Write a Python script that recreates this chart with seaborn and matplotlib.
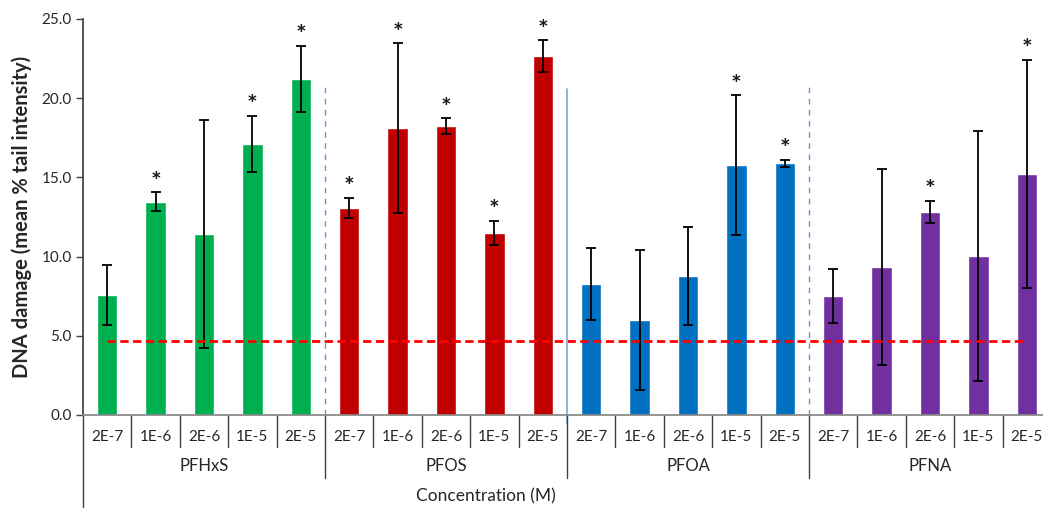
import matplotlib
matplotlib.use('Agg')

import pandas as pd
import matplotlib.pyplot as plt
import seaborn as sns

# datos
compuestos = ["PFHxS", "PFOS", "PFOA", "PFNA"]
concentraciones = ["2E-7", "1E-6", "2E-6", "1E-5", "2E-5"]
colores = {"PFHxS": "#00B050", "PFOS": "#C00000", "PFOA": "#0070C0", "PFNA": "#7030A0"}

media = [7.6, 13.45, 11.45, 17.1, 21.2,
         13.07, 18.12, 18.24, 11.5, 22.66,
         8.27, 6.0, 8.78, 15.78, 15.9,
         7.51, 9.35, 12.84, 10.05, 15.21]
error = [1.9, 0.6, 7.2, 1.77, 2.1,
         0.63, 5.35, 0.5, 0.77, 1.0,
         2.27, 4.4, 3.1, 4.4, 0.22,
         1.72, 6.2, 0.7, 7.9, 7.2]
significativo = [0, 1, 0, 1, 1,
                 1, 1, 1, 1, 1,
                 0, 0, 0, 1, 1,
                 0, 0, 1, 0, 1]
control = 4.65

filas = []
for i, c in enumerate(compuestos):
    for j, conc in enumerate(concentraciones):
        filas.append({"clave": f"{c} {conc}", "compuesto": c, "conc": conc})
df = pd.DataFrame(filas)
df["media"] = media
df["error"] = error
df["sig"] = significativo

sns.set_theme(style="white")
plt.rcParams['font.family'] = ['Lato', 'DejaVu Sans']

fig = plt.figure(figsize=(10.43, 5.08), dpi=100)
ax = fig.add_axes([83 / 1043, 93 / 508, 968 / 1043, 396 / 508])

sns.barplot(data=df, x="clave", y="media", hue="compuesto", palette=colores,
            order=list(df["clave"]), dodge=False, width=0.42, errorbar=None,
            legend=False, ax=ax, saturation=1)

pos = list(range(len(df)))
ax.errorbar(pos, df["media"], yerr=df["error"], fmt="none", ecolor="black",
            elinewidth=1.3, capsize=3.5, capthick=1.3)
for p, m, e, s in zip(pos, df["media"], df["error"], df["sig"]):
    if s:
        ax.annotate("*", (p, m + e), xytext=(0, -1), textcoords="offset points",
                    ha="center", va="bottom", fontsize=18, fontweight="bold",
                    color="#1a1a1a")

# línea de control
ax.plot([pos[0], pos[-1]], [control, control], color="#FF0000", lw=2,
        dashes=(3, 1.6))

# separadores entre compuestos
ax.plot([4.5, 4.5], [0, 20.9], color="#5B9BD5", lw=1, dashes=(4, 4))
ax.plot([9.5, 9.5], [-0.5, 20.6], color="#8EAADB", lw=1.3, clip_on=False)
ax.plot([14.5, 14.5], [0, 20.9], color="#5B9BD5", lw=1, dashes=(4, 4))

ax.set_ylim(0, 25)
ax.set_xlim(-0.5, 19.5)
ax.set_yticks([0, 5, 10, 15, 20, 25])
ax.set_yticklabels([f"{v:.1f}" for v in [0, 5, 10, 15, 20, 25]], fontsize=11)
ax.tick_params(axis="y", left=True, length=5, width=1, color="#404040", pad=3)
ax.set_xticks([])
ax.set_xlabel("")
ax.set_ylabel("DNA damage (mean % tail intensity)", fontsize=14.5, fontweight="bold",
              labelpad=7)

for lado in ["top", "right"]:
    ax.spines[lado].set_visible(False)
ax.spines["bottom"].set_color("#868686")
ax.spines["left"].set_color("#404040")
ax.spines["left"].set_bounds(0, 25)

# eje de categorías en dos niveles
tr = ax.get_xaxis_transform()
for b in range(1, 21):
    largo = -0.159 if b % 5 == 0 else -0.081
    ax.plot([b - 0.5, b - 0.5], [0, largo], color="#404040", lw=1,
            transform=tr, clip_on=False)
for p, conc in zip(pos, df["conc"]):
    ax.text(p, -0.055, conc, transform=tr, ha="center", va="center", fontsize=11)
for i, c in enumerate(compuestos):
    ax.text(i * 5 + 2, -0.13, c, transform=tr, ha="center", va="center", fontsize=12)

fig.text(486 / 1043, 1 - 496 / 508, "Concentration (M)", ha="center", va="center",
         fontsize=12.5)

ax.plot([-0.5, -0.5], [0, -0.24], color="#404040", lw=1, transform=tr, clip_on=False)

fig.savefig("out.png", dpi=100)
